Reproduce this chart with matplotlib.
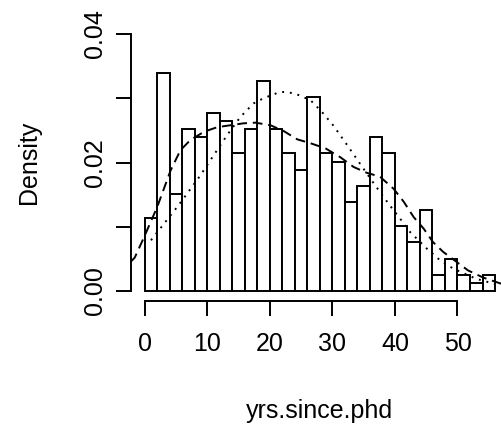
import numpy as np
import matplotlib
matplotlib.use("Agg")
import matplotlib.pyplot as plt

plt.rcParams['font.family'] = ['Liberation Sans', 'DejaVu Sans']

# histogram of yrs.since.phd, bins of width 2 from 0 to 56 (counts)
bin_edges = list(range(0, 58, 2))
counts = [9, 27, 12, 20, 19, 22, 21, 17, 20, 26, 20, 17, 15, 24,
          17, 16, 11, 13, 19, 17, 8, 6, 10, 2, 4, 2, 1, 2]

# dashed curve (kernel density)
kde_x = [-2.2, -1.6, -0.1, 2.0, 4.15, 5.7, 7.3, 9.5, 11.6, 13.7, 15.8, 17.7,
         20.1, 22.2, 24.4, 26.5, 28.9, 31.3, 33.4, 35.5, 37.6, 39.8, 41.4,
         43.0, 44.6, 46.1, 47.7, 49.9, 51.7, 54.1, 56.8, 58.2]
kde_y = [0.0046, 0.0052, 0.0084, 0.0131, 0.0188, 0.0219, 0.0235, 0.0248, 0.0255,
         0.0258, 0.0261, 0.0262, 0.0258, 0.0249, 0.0236, 0.0230, 0.0222, 0.0208,
         0.0193, 0.0184, 0.0178, 0.0159, 0.0139, 0.0115, 0.0097, 0.0076, 0.0061,
         0.0045, 0.0032, 0.0021, 0.0012, 0.0009]

# dotted curve (normal density)
norm_x = [1.0, 3.1, 5.2, 6.8, 8.9, 11.0, 13.2, 15.3, 17.4, 19.0, 21.4, 22.5, 24.1,
          26.5, 28.3, 30.2, 32.3, 34.5, 36.8, 39.2, 40.8, 42.4, 45.1, 47.2, 49.3,
          53.0, 56.0]
norm_y = [0.0079, 0.0105, 0.0131, 0.0152, 0.0180, 0.0211, 0.0243, 0.0271, 0.0292,
          0.0300, 0.0309, 0.0310, 0.0307, 0.0297, 0.0279, 0.0257, 0.0228, 0.0197,
          0.0165, 0.0133, 0.0113, 0.0092, 0.0066, 0.0048, 0.0035, 0.0019, 0.0011]

counts = np.array(counts)
width = bin_edges[1] - bin_edges[0]
dens = counts / (counts.sum() * width)

fig = plt.figure(figsize=(5.02, 4.28), dpi=100)
ax = fig.add_axes([0.2604, 0.2960, 0.7536, 0.6486])

ax.bar(bin_edges[:-1], dens, width=width, align='edge', facecolor='white',
       edgecolor='black', linewidth=1.4)
ax.plot(kde_x, kde_y, color='black', lw=1.4, dashes=(5, 3))
ax.plot(norm_x, norm_y, color='black', lw=1.4, dashes=(1, 3))

ax.set_xlim(-2.24, 58.24)
ax.set_ylim(-0.0016, 0.0416)

for s in ['top', 'right']:
    ax.spines[s].set_visible(False)
ax.spines['bottom'].set_bounds(0, 50)
ax.spines['left'].set_bounds(0, 0.04)
for s in ['bottom', 'left']:
    ax.spines[s].set_linewidth(1.4)

ax.set_xticks(np.arange(0, 51, 10))
ax.set_yticks([0, 0.01, 0.02, 0.03, 0.04])
ax.set_yticklabels(['0.00', '', '0.02', '', '0.04'])
ax.tick_params(axis='both', length=11, width=1.4, labelsize=18)
ax.tick_params(axis='x', pad=11)
ax.tick_params(axis='y', pad=6)
for lab in ax.get_yticklabels():
    lab.set_rotation(90)
    lab.set_va('center')

ax.set_xlabel('yrs.since.phd', fontsize=18, labelpad=31)
ax.set_ylabel('Density', fontsize=18, labelpad=30)

fig.savefig('out.png', dpi=100)
